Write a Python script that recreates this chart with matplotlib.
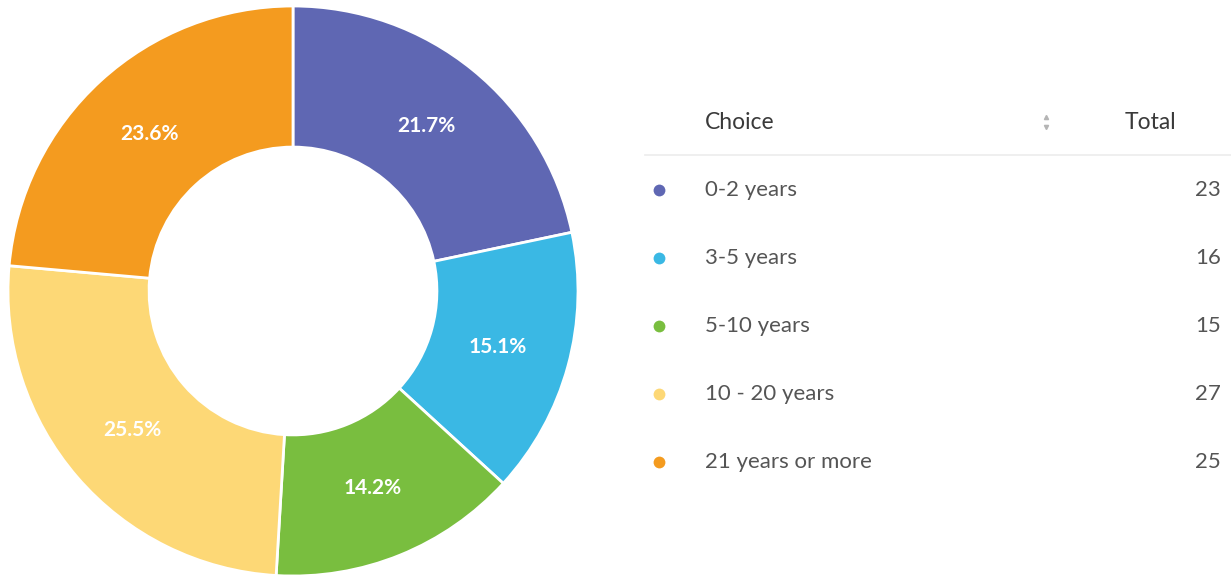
import matplotlib
matplotlib.use("Agg")
import matplotlib.pyplot as plt
from matplotlib.lines import Line2D

categories = ["0-2 years", "3-5 years", "5-10 years", "10 - 20 years", "21 years or more"]
totals = [23, 16, 15, 27, 25]
colors = ["#5f67b3", "#3ab8e4", "#79be3f", "#fdd876", "#f49b1f"]
header_choice = "Choice"
header_total = "Total"

W, H = 1231, 575
plt.rcParams['font.family'] = ['Lato', 'DejaVu Sans']
fig = plt.figure(figsize=(W / 100, H / 100), dpi=100)
fig.patch.set_facecolor("white")

def fx(px):
    return px / W

def fy(py):
    return 1 - py / H

# Donut
cx, cy, R = 293, 291, 285
ax = fig.add_axes([fx(cx - R), fy(cy + R), 2 * R / W, 2 * R / H])
wedges, texts, autotexts = ax.pie(
    totals, colors=colors, startangle=90, counterclock=False, radius=1,
    wedgeprops=dict(width=0.495, edgecolor="white", linewidth=2),
    autopct=lambda p: f"{p:.1f}%", pctdistance=0.745,
    textprops=dict(color="white", fontsize=15, fontweight="bold"))
ax.set_xlim(-1, 1)
ax.set_ylim(-1, 1)
ax.set_aspect("equal")
ax.axis("off")

# Table
hdr_y = 122
fig.text(fx(705), fy(hdr_y), header_choice, fontsize=16.5, color="#3a3a3a",
         va="center", ha="left")
fig.text(fx(1176), fy(hdr_y), header_total, fontsize=16.5, color="#3a3a3a",
         va="center", ha="right")
fig.add_artist(Line2D([fx(1046)], [fy(117)], marker="^", markersize=3,
                      color="#b5b5b5", transform=fig.transFigure))
fig.add_artist(Line2D([fx(1046)], [fy(127)], marker="v", markersize=3,
                      color="#b5b5b5", transform=fig.transFigure))
fig.add_artist(Line2D([fx(645), fx(1231)], [fy(155), fy(155)], color="#ececec",
                      linewidth=1.2, transform=fig.transFigure))

row_y = [190, 258, 326, 394, 462]
for y, cat, val, col in zip(row_y, categories, totals, colors):
    fig.add_artist(Line2D([fx(659)], [fy(y)], marker="o", markersize=8.5,
                          color=col, markeredgewidth=0, transform=fig.transFigure))
    fig.text(fx(705), fy(y), cat, fontsize=16, color="#555555", va="center", ha="left")
    fig.text(fx(1221), fy(y), str(val), fontsize=16, color="#555555", va="center", ha="right")

fig.savefig("out.png", dpi=100, facecolor="white")
